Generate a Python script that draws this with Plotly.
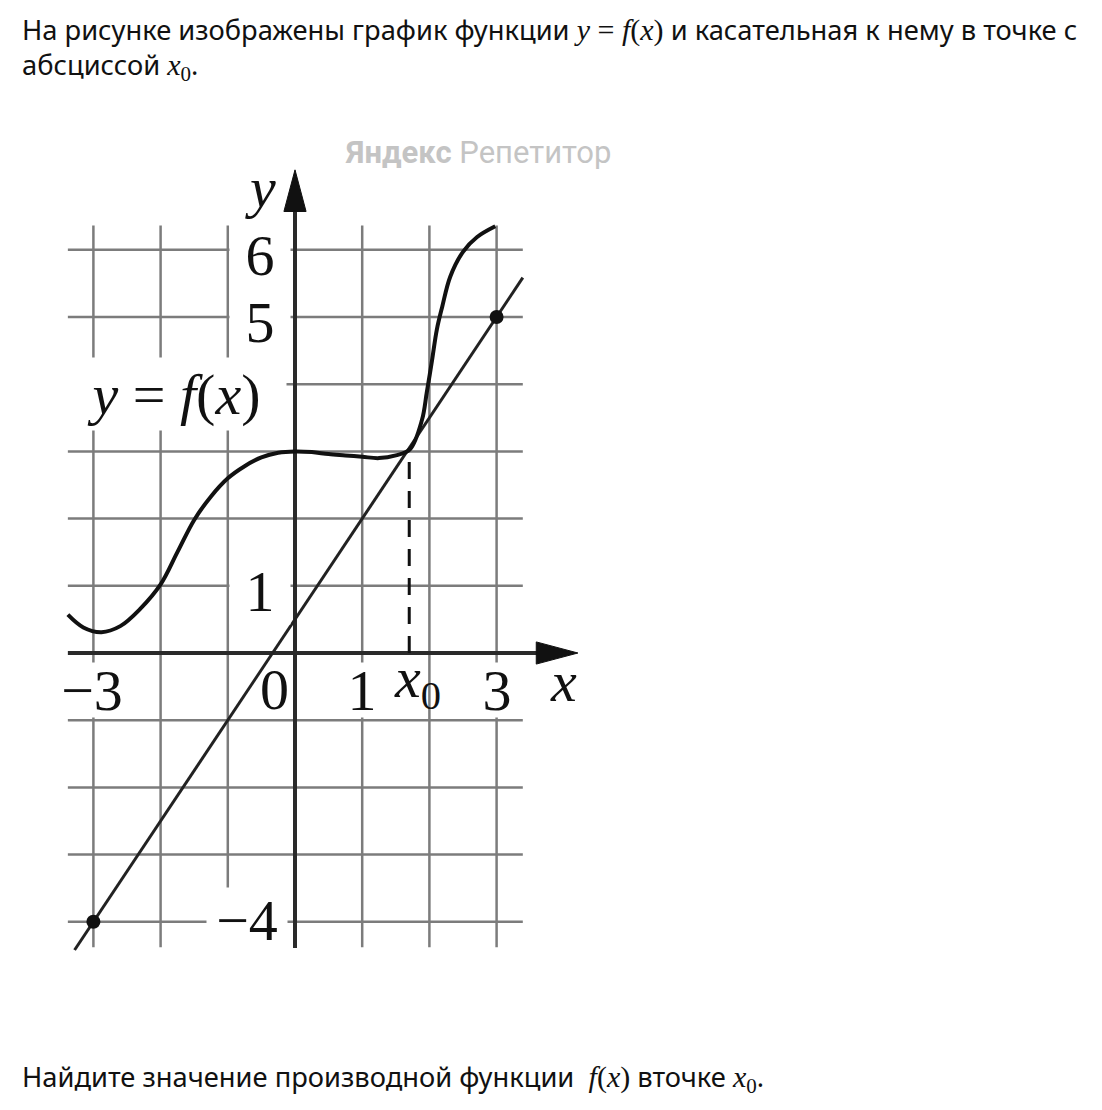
import plotly.graph_objects as go

# ---------------- data ----------------
# curve y = f(x)
fx = [-3.38, -3.15, -2.88, -2.6, -2.3, -2.0, -1.75, -1.5, -1.25, -1.0, -0.75, -0.5, -0.25,
      0.0, 0.25, 0.5, 0.75, 1.0, 1.25, 1.5, 1.71, 1.89, 1.96, 2.04, 2.11, 2.19, 2.31, 2.5,
      2.71, 2.98]
fy = [0.57, 0.38, 0.31, 0.40, 0.66, 1.02, 1.5, 1.98, 2.33, 2.6, 2.78, 2.91, 2.98,
      3.0, 2.99, 2.96, 2.94, 2.92, 2.90, 2.94, 3.03, 3.47, 3.87, 4.36, 4.81, 5.15, 5.6, 5.97,
      6.19, 6.35]

# tangent line: passes through the two marked points
tangent_pt_x = [-3, 3]
tangent_pt_y = [-4, 5]
tangent_ends_x = [-3.28, 3.39]
x0 = 1.7

# grid
grid_x = [-3, -2, -1, 1, 2, 3]
grid_y = [-4, -3, -2, -1, 1, 2, 3, 4, 5, 6]
grid_x_extent = [-3.38, 3.39]
grid_y_extent = [-4.38, 6.36]

# axes
x_axis_from, x_axis_tip = -3.38, 4.21
y_axis_from, y_axis_tip = -4.39, 7.19

# tick labels
y_tick_labels = ["6", "5", "1", "\u22124"]
y_tick_vals = [6, 5, 1, -4]
x_tick_labels = ["\u22123", "1", "3"]
x_tick_vals = [-3, 1, 3]

# ---------------- geometry helpers ----------------
slope = (tangent_pt_y[1] - tangent_pt_y[0]) / (tangent_pt_x[1] - tangent_pt_x[0])
def tangent(x):
    return tangent_pt_y[0] + slope * (x - tangent_pt_x[0])
y0 = tangent(x0)

UNIT = 67.2           # pixels per unit
OX, OY = 287, 645     # origin in figure pixels
W, H = 1086, 1094

SERIF = "Liberation Serif, Times New Roman, serif"
SANS = "Noto Sans, Open Sans, sans-serif"
INK = "#111111"

fig = go.Figure()

# grid lines
gx, gy = [], []
for v in grid_x:
    gx += [v, v, None]
    gy += [grid_y_extent[0], grid_y_extent[1], None]
for v in grid_y:
    gx += [grid_x_extent[0], grid_x_extent[1], None]
    gy += [v, v, None]
fig.add_trace(go.Scatter(x=gx, y=gy, mode="lines",
                         line=dict(color="#7c7c7c", width=2.5), hoverinfo="skip"))

# axes lines
fig.add_trace(go.Scatter(x=[x_axis_from, x_axis_tip - 0.3], y=[0, 0], mode="lines",
                         line=dict(color="#2a2a2a", width=4), hoverinfo="skip"))
fig.add_trace(go.Scatter(x=[0, 0], y=[y_axis_from, y_axis_tip - 0.3], mode="lines",
                         line=dict(color="#2a2a2a", width=4), hoverinfo="skip"))

# arrowheads
ah_len, ah_half = 0.62, 0.165
fig.add_trace(go.Scatter(x=[x_axis_tip, x_axis_tip - ah_len, x_axis_tip - ah_len, x_axis_tip],
                         y=[0, ah_half, -ah_half, 0], mode="lines", fill="toself",
                         fillcolor="#111111", line=dict(color="#111111", width=1), hoverinfo="skip"))
fig.add_trace(go.Scatter(x=[0, ah_half, -ah_half, 0],
                         y=[y_axis_tip, y_axis_tip - ah_len, y_axis_tip - ah_len, y_axis_tip],
                         mode="lines", fill="toself",
                         fillcolor="#111111", line=dict(color="#111111", width=1), hoverinfo="skip"))

# tangent line
fig.add_trace(go.Scatter(x=tangent_ends_x, y=[tangent(v) for v in tangent_ends_x], mode="lines",
                         line=dict(color="#222222", width=3), hoverinfo="skip"))

# dashed line at x0
fig.add_trace(go.Scatter(x=[x0, x0], y=[0, y0], mode="lines",
                         line=dict(color="#111111", width=3, dash="17px,12px"), hoverinfo="skip"))

# curve
fig.add_trace(go.Scatter(x=fx, y=fy, mode="lines",
                         line=dict(color="#111111", width=4, shape="spline", smoothing=1.0),
                         hoverinfo="skip"))

# marked points
fig.add_trace(go.Scatter(x=tangent_pt_x, y=tangent_pt_y, mode="markers",
                         marker=dict(color="#111111", size=14), hoverinfo="skip"))

ann = []
LBL = dict(family=SERIF, size=58, color=INK)

# y tick labels (white boxes hide grid behind)
for t, v in zip(y_tick_labels, y_tick_vals):
    if v == -4:
        ann.append(dict(x=-0.71, y=v + 0.03, text=t, showarrow=False, font=LBL,
                        bgcolor="white", width=78, height=62))
    else:
        ann.append(dict(x=-0.52, y=v - 0.08, text=t, showarrow=False, font=LBL,
                        bgcolor="white", width=58, height=64))

# x tick labels
for t, v in zip(x_tick_labels, x_tick_vals):
    w = 64 if t.startswith("\u2212") else 30
    ann.append(dict(x=v - (0.02 if v == -3 else 0), y=-0.55, text=t, showarrow=False,
                    font=LBL, bgcolor="white", width=w, height=52))

# y = f(x) label
ann.append(dict(x=-1.80, y=3.85, text="<i>y</i> = <i>f</i>(<i>x</i>)", showarrow=False,
                font=LBL, bgcolor="white", width=222, height=70))

# labels without background
ann.append(dict(x=-0.30, y=-0.55, text="0", showarrow=False, font=LBL))
ann.append(dict(x=1.82, y=-0.43, text="<i>x</i><sub>0</sub>", showarrow=False, font=LBL))
ann.append(dict(x=4.0, y=-0.43, text="<i>x</i>", showarrow=False, font=LBL))
ann.append(dict(x=-0.52, y=6.92, text="<i>y</i>", showarrow=False, font=LBL))

# watermark
ann.append(dict(xref="paper", yref="paper", x=(478 - 8) / W, y=1 - (152 - 8) / H,
                xanchor="center", yanchor="middle",
                text="<b>Яндекс</b> Репетитор", showarrow=False,
                font=dict(family="Roboto, Noto Sans, sans-serif", size=31,
                          color="#c4c4c4")))

# question text
MATH = "<span style='font-family:Liberation Serif;font-size:30px'>"
TXT = dict(family=SANS, size=27.3, color="#111111")
ann.append(dict(xref="paper", yref="paper", x=12 / W, y=1 - 21 / H, xanchor="left",
                yanchor="middle", showarrow=False, font=TXT,
                text="На рисунке изображены график функции " + MATH +
                     "<i>y</i>&nbsp;=&nbsp;<i>f</i>(<i>x</i>)</span> и касательная к нему в точке с"))
ann.append(dict(xref="paper", yref="paper", x=12 / W, y=1 - 58 / H, xanchor="left",
                yanchor="middle", showarrow=False, font=TXT,
                text="абсциссой " + MATH + "<i>x</i><sub>0</sub></span>."))
ann.append(dict(xref="paper", yref="paper", x=12 / W, y=1 - 1070 / H, xanchor="left",
                yanchor="middle", showarrow=False, font=TXT,
                text="Найдите значение производной функции  " + MATH +
                     "<i>f</i>(<i>x</i>)</span> вточке " + MATH + "<i>x</i><sub>0</sub></span>."))

fig.update_layout(
    width=W, height=H, margin=dict(l=0, r=0, t=0, b=0),
    paper_bgcolor="white", plot_bgcolor="white", showlegend=False,
    xaxis=dict(range=[-OX / UNIT, (W - OX) / UNIT], visible=False, fixedrange=True),
    yaxis=dict(range=[-(H - OY) / UNIT, OY / UNIT], visible=False, fixedrange=True),
    annotations=ann,
)

fig.write_html("out.html")
